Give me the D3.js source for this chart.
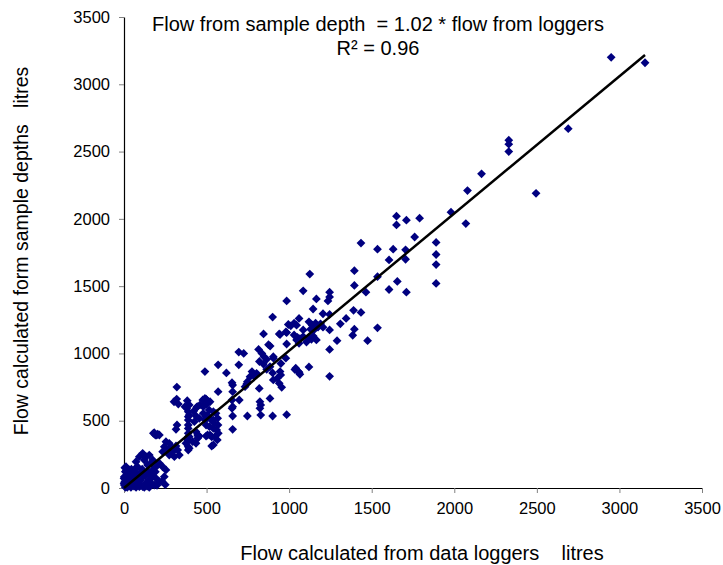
<!DOCTYPE html>
<html>
<head>
<meta charset="utf-8">
<script src="https://cdn.jsdelivr.net/npm/d3@7"></script>
<style>
  body { margin: 0; background: #fff; }
  svg { font-family: "Liberation Sans", Arial, sans-serif; }
  text { white-space: pre; }
</style>
</head>
<body>
<svg id="chart"></svg>
<script>
// flow from data loggers (x) vs flow from sample depths (y), litres
const loggerFlow = [
  2950,3155,2690,2330,2330,2330,2495,2165,2080,2070,1980,1890,1890,1890,1890,1760,1790,1710,1705,1705,
  1710,1650,1650,1435,1535,1630,1605,1535,1465,1655,1605,1435,1535,1475,1395,1395,1125,1085,985,1165,
  1235,1245,1245,1145,1205,1245,1060,1390,1345,1310,1395,1385,1245,1290,1245,1245,1120,1035,1060,945,
  980,985,985,900,995,1010,1030,1045,1120,1140,1160,1175,1130,1150,1190,1085,1205,945,980,1030,
  1050,1045,1060,1145,1165,1120,1135,885,905,950,1040,1055,1065,900,
  845,940,985,1065,1085,1105,875,695,725,815,835,820,848,864,844,884,864,904,570,695,
  490,620,775,787,763,803,949,928,904,654,658,747,743,733,819,940,955,570,658,884,
  497,521,501,480,654,658,654,698,823,828,823,440,515,541,480,497,525,541,658,747,
  828,900,569,561,571,658,450,497,521,531,551,565,531,
  320,319,329,303,383,395,369,380,389,389,389,389,389,389,389,389,389,389,444,460,
  477,490,500,497,517,541,541,446,178,198,117,
  183,204,190,214,321,315,395,422,436,426,456,506,492,521,547,557,567,506,436,456,
  446,436,416,386,395,375,395,254,274,244,285,305,315,264,234,295,325,335,305,274,
  244,214,234,254,194,174,153,113,133,123,93,73,143,163,174,
  12,32,8,22,2,42,63,73,93,113,103,83,53,32,12,2,5,8,42,73,
  113,133,153,174,194,214,184,153,123,93,0,0,5,15,25,10,20,30,50,60,40,
  20,60,100,140,170,35,70,90,120,150,20,45,80,110,130,160,190,200,230,250
];
const depthFlow = [
  3200,3160,2670,2585,2555,2500,2190,2335,2210,1965,2050,1825,1735,1660,1520,1865,2005,1990,1770,1700,
  1455,2020,1955,1820,1775,1775,1695,1570,1455,1535,1475,1305,1190,1095,1615,1505,1590,1465,1390,1405,
  1390,1455,1420,1330,1295,1290,1260,1320,1260,1220,1180,1135,1175,1095,1030,830,900,880,860,865,
  965,1070,545,1270,1215,1205,1225,1210,1235,1210,1225,1195,1180,1175,1220,1175,1195,1140,1160,1137,
  1120,1100,1075,1130,1100,1120,1105,1055,965,925,890,865,845,855,
  1145,1145,1155,1110,1125,1085,1065,1010,1000,1030,1000,940,976,956,921,901,882,976,915,915,
  865,855,865,832,827,852,840,815,803,782,765,790,773,753,740,778,748,716,716,666,
  661,641,624,604,654,604,592,654,641,617,592,600,580,567,555,530,510,505,535,535,
  542,535,468,431,406,436,386,386,394,381,381,357,312,
  750,661,624,641,649,617,604,592,567,530,505,468,443,406,381,357,307,282,604,617,
  654,666,654,468,456,443,320,394,406,394,245,
  411,401,394,394,468,436,542,572,535,493,518,542,505,518,481,555,518,394,418,386,
  369,332,344,357,381,332,295,344,332,307,307,295,312,282,270,270,282,245,233,245,
  84,184,158,134,158,134,245,258,233,208,233,195,171,184,208,
  158,134,121,97,84,84,121,146,109,84,59,35,47,22,10,22,47,5,5,5,
  10,35,59,84,72,47,22,5,5,10,72,35,150,130,100,60,30,55,75,95,110,
  5,15,20,15,30,70,80,60,110,120,115,140,160,140,90,100,120,20,50,25
];
const tickValues = [0, 500, 1000, 1500, 2000, 2500, 3000, 3500];
const slope = 1.02;
const titleLines = ["Flow from sample depth  = 1.02 * flow from loggers", "R\u00b2 = 0.96"];
const xTitle = "Flow calculated from data loggers    litres";
const yTitle = "Flow calculated form sample depths   litres";

const points = loggerFlow.map((v, i) => ({x: v, y: depthFlow[i]}));

const width = 723, height = 565;
const margin = {top: 17, right: 21, bottom: 77, left: 124};

const svg = d3.select('#chart')
  .attr('width', width)
  .attr('height', height);

const x = d3.scaleLinear()
  .domain([0, 3500])
  .range([margin.left, width - margin.right]);
const y = d3.scaleLinear()
  .domain([0, 3500])
  .range([height - margin.bottom, margin.top]);

// axes
const xAxis = d3.axisBottom(x)
  .tickValues(tickValues)
  .tickFormat(d3.format('d'))
  .tickSizeInner(5).tickSizeOuter(0).tickPadding(9);
const gx = svg.append('g')
  .attr('transform', 'translate(0,' + (height - margin.bottom) + ')')
  .call(xAxis);

const yAxis = d3.axisLeft(y)
  .tickValues(tickValues)
  .tickFormat(d3.format('d'))
  .tickSizeInner(5).tickSizeOuter(0).tickPadding(9);
const gy = svg.append('g')
  .attr('transform', 'translate(' + margin.left + ',0)')
  .call(yAxis);

[gx, gy].forEach(g => {
  g.select('.domain').attr('stroke', '#000').attr('stroke-width', 1.2);
  g.selectAll('.tick line').attr('stroke', '#808080');
  g.selectAll('.tick text')
    .attr('fill', '#000')
    .style('font-size', '16.5px')
    .style('font-family', '"Liberation Sans", Arial, sans-serif');
});

// points
svg.append('g')
  .selectAll('path')
  .data(points)
  .enter()
  .append('path')
  .attr('d', 'M0,-4.4L4.4,0L0,4.4L-4.4,0Z')
  .attr('transform', d => 'translate(' + x(d.x) + ',' + y(d.y) + ')')
  .attr('fill', '#000080');

// trend line through origin
const xMax = d3.max(loggerFlow);
svg.append('line')
  .attr('x1', x(0)).attr('y1', y(0))
  .attr('x2', x(xMax)).attr('y2', y(slope * xMax))
  .attr('stroke', '#000')
  .attr('stroke-width', 2.5);

// equation
svg.append('text')
  .attr('x', 378).attr('y', 31)
  .attr('text-anchor', 'middle')
  .style('font-size', '20px')
  .text(titleLines[0]);
svg.append('text')
  .attr('x', 378).attr('y', 55)
  .attr('text-anchor', 'middle')
  .style('font-size', '20px')
  .text(titleLines[1]);

// axis titles
svg.append('text')
  .attr('x', 422).attr('y', 560)
  .attr('text-anchor', 'middle')
  .style('font-size', '20px')
  .text(xTitle);

svg.append('text')
  .attr('transform', 'translate(28,251) rotate(-90)')
  .attr('text-anchor', 'middle')
  .style('font-size', '19.5px')
  .text(yTitle);
</script>
</body>
</html>
